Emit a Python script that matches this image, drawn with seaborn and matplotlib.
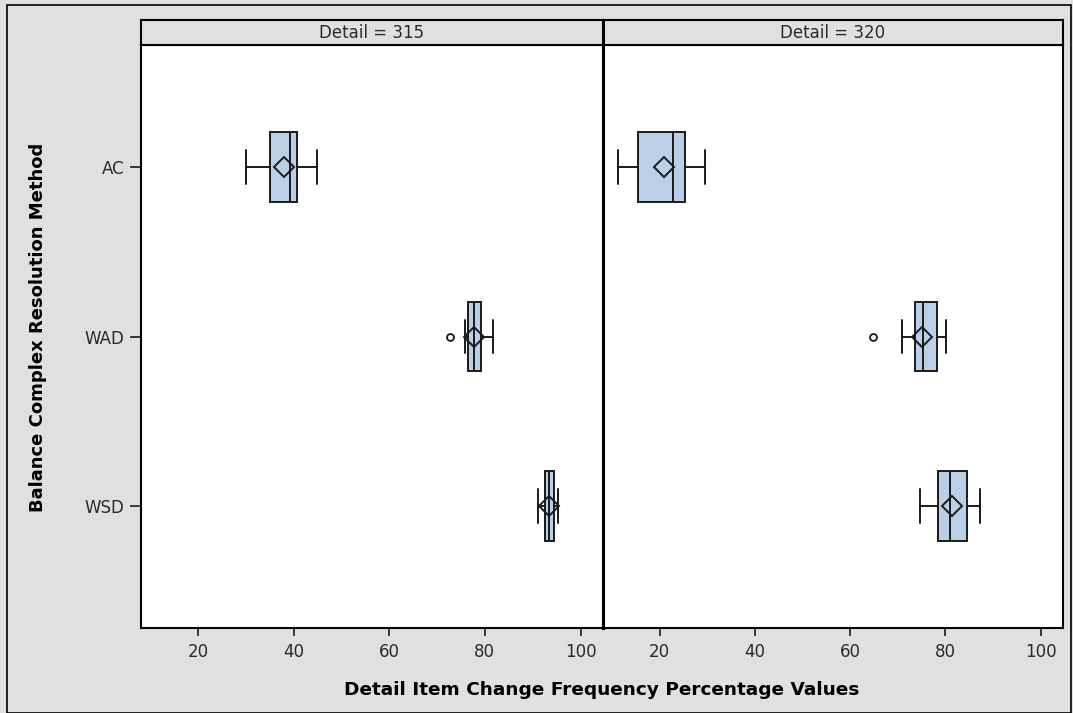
import matplotlib
matplotlib.use("Agg")
import matplotlib.pyplot as plt
from matplotlib.patches import Rectangle
import seaborn as sns

# ---------------- data ----------------
categories = ["AC", "WAD", "WSD"]
panels = ["315", "320"]

whislo_315 = [30.0, 75.8, 91.2]
q1_315 = [35.1, 76.4, 92.5]
med_315 = [39.3, 77.8, 93.5]
q3_315 = [40.8, 79.1, 94.4]
whishi_315 = [45.0, 81.7, 95.2]
mean_315 = [37.9, 77.7, 93.4]
fliers_315 = [[], [72.7], []]

whislo_320 = [11.3, 70.8, 74.7]
q1_320 = [15.5, 73.6, 78.5]
med_320 = [22.8, 75.3, 81.0]
q3_320 = [25.4, 78.2, 84.6]
whishi_320 = [29.6, 80.2, 87.3]
mean_320 = [20.9, 75.1, 81.3]
fliers_320 = [[], [64.7], []]

xticks = [20, 40, 60, 80, 100]
xlabel = "Detail Item Change Frequency Percentage Values"
ylabel = "Balance Complex Resolution Method"

panel_stats = {
    "315": (whislo_315, q1_315, med_315, q3_315, whishi_315, mean_315, fliers_315),
    "320": (whislo_320, q1_320, med_320, q3_320, whishi_320, mean_320, fliers_320),
}

# ---------------- style ----------------
sns.set_theme(style="white")
plt.rcParams["font.family"] = ["DejaVu Sans"]

BG = "#e0e0e0"
FILL = "#bad0e9"
EDGE = "#1a1a1a"
TXT = "#2a2a2a"

W, H = 1073, 713
fig = plt.figure(figsize=(W / 100, H / 100), dpi=100, facecolor=BG)

def fx(px):
    return px / W

def fy(py):
    return 1 - py / H

plot_top, plot_bot = 45, 628
head_top = 20
panel_x = [(141, 603), (603, 1063)]

axes = []
for i, p in enumerate(panels):
    x0, x1 = panel_x[i]
    ax = fig.add_axes([fx(x0), fy(plot_bot), fx(x1 - x0), (plot_bot - plot_top) / H])
    ax.set_facecolor("white")
    lo, a, m, b, hi, mn, fl = panel_stats[p]
    stats = []
    for k, c in enumerate(categories):
        stats.append(dict(label=c, whislo=lo[k], q1=a[k], med=m[k], q3=b[k],
                          whishi=hi[k], mean=mn[k], fliers=fl[k]))
    ax.bxp(stats, positions=list(range(len(categories))), orientation="horizontal",
           widths=0.41, capwidths=0.2, patch_artist=True, showmeans=True,
           boxprops=dict(facecolor=FILL, edgecolor=EDGE, linewidth=1.4),
           medianprops=dict(color=EDGE, linewidth=1.4),
           whiskerprops=dict(color=EDGE, linewidth=1.4),
           capprops=dict(color=EDGE, linewidth=1.4),
           meanprops=dict(marker="D", markerfacecolor="none", markeredgecolor=EDGE,
                          markeredgewidth=1.4, markersize=10),
           flierprops=dict(marker="o", markerfacecolor="none", markeredgecolor=EDGE,
                           markeredgewidth=1.3, markersize=5))
    ax.set_xlim(8.1, 104.7)
    ax.set_ylim(2.72, -0.72)
    ax.set_xticks(xticks)
    ax.set_xticklabels([str(t) for t in xticks], fontsize=12, color=TXT)
    ax.tick_params(axis="x", direction="out", length=6, width=1.2, color=EDGE, pad=5,
                   bottom=True)
    if i == 0:
        ax.set_yticks(range(len(categories)))
        ax.set_yticklabels(categories, fontsize=12, color=TXT)
        ax.tick_params(axis="y", direction="out", length=8, width=1.2, color=EDGE, pad=4,
                       left=True)
    else:
        ax.set_yticks([])
    for s in ax.spines.values():
        s.set_visible(True)
        s.set_color("black")
        s.set_linewidth(1.5)
    ax.spines["right" if i == 0 else "left"].set_linewidth(2.2)
    ax.set_xlabel("")
    ax.set_ylabel("")
    axes.append(ax)

    # header strip
    hax = fig.add_axes([fx(x0), fy(plot_top), fx(x1 - x0), (plot_top - head_top) / H])
    hax.set_facecolor(BG)
    hax.set_xticks([])
    hax.set_yticks([])
    for s in hax.spines.values():
        s.set_visible(True)
        s.set_color("black")
        s.set_linewidth(1.5)
    hax.spines["right" if i == 0 else "left"].set_linewidth(2.2)
    hax.text(0.5, 0.48, f"Detail = {p}", ha="center", va="center", fontsize=12,
             color=TXT, transform=hax.transAxes)

fig.text(fx(602), fy(690), xlabel, ha="center", va="center", fontsize=13.3,
         fontweight="bold", color="black")
fig.text(fx(38), fy(327), ylabel, ha="center", va="center", fontsize=13,
         fontweight="bold", color="black", rotation=90)

fig.patches.append(Rectangle((fx(7), 0), fx(1071 - 7), fy(5), transform=fig.transFigure,
                             fill=False, edgecolor="black", linewidth=1.2))

fig.savefig("out.png", dpi=100, facecolor=BG)
